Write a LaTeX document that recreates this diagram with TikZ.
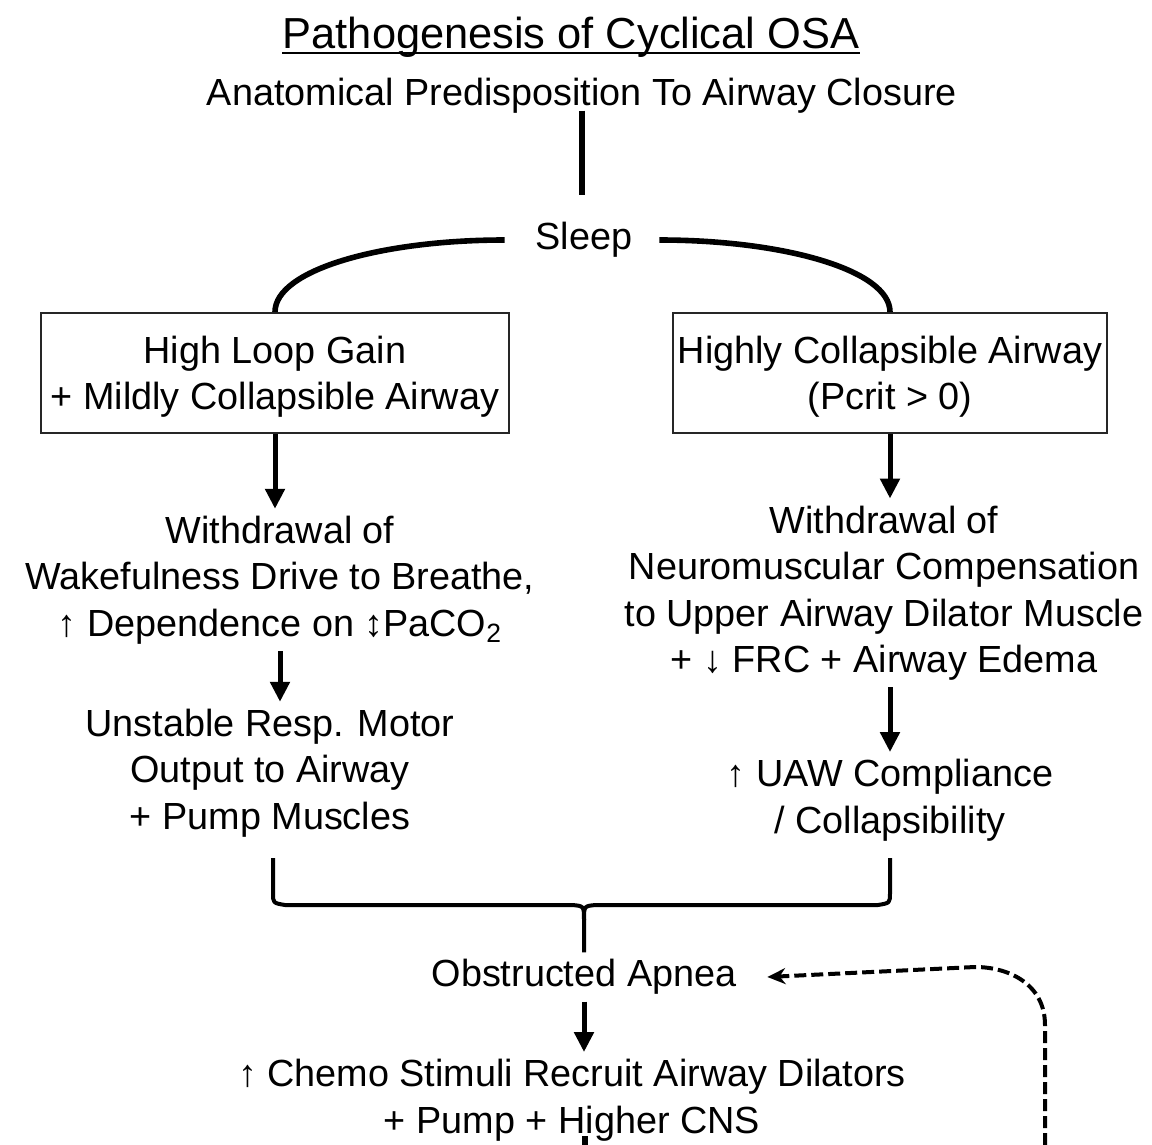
\documentclass[tikz,border=0pt]{standalone}
\usepackage{fontspec}
\setmainfont{Liberation Sans}
\usetikzlibrary{arrows.meta}

\begin{document}
\begin{tikzpicture}[x=0.5pt, y=-0.5pt,
    every node/.style={font=\fontsize{18.9}{23.25}\selectfont, align=center},
    statebox/.style={draw=black!85, line width=1pt, minimum height=60pt, inner sep=0pt, text depth=0pt},
    link/.style={line width=2.8pt},
    bracepath/.style={line width=2pt, line join=round},
    arr/.style={line width=2.5pt, -{Triangle[length=10pt, width=9.5pt]}},
    feedback/.style={line width=2pt, dash pattern=on 6pt off 2.5pt, -{Stealth[length=9pt, width=8pt]}}]

    \useasboundingbox (0, 0) rectangle (1152, 1145);

    % Declare the nodes
    \node[inner sep=0pt] at (571, 37) (title) {\fontsize{21.7}{26}\selectfont Pathogenesis of Cyclical OSA};
    \node at (582, 96) (anat) {Anatomical Predisposition To Airway Closure};
    \node at (584, 240) (sleep) {Sleep};
    \node[statebox, minimum width=234pt] at (275, 373) (hl) {High Loop Gain\\+ Mildly Collapsible Airway};
    \node[statebox, minimum width=217pt] at (890, 373) (hc) {Highly Collapsible Airway\\(Pcrit > 0)};
    \node at (280, 580) (wl) {Withdrawal of\\Wakefulness Drive to Breathe,\\↑ Dependence on ↕PaCO\textsubscript{2}};
    \node at (270, 773) (ul) {Unstable Resp. Motor\\Output to Airway\\+ Pump Muscles};
    \node at (884, 593) (wr) {Withdrawal of\\Neuromuscular Compensation\\to Upper Airway Dilator Muscle\\+ ↓ FRC + Airway Edema};
    \node at (890, 800) (uaw) {↑ UAW Compliance\\/ Collapsibility};
    \node at (584, 977) (apnea) {Obstructed Apnea};
    \node at (572, 1100) (chemo) {↑ Chemo Stimuli Recruit Airway Dilators\\+ Pump + Higher CNS};

    % Declare the coordinates
    \coordinate (bracel) at (273, 858);
    \coordinate (bracer) at (890, 858);
    \coordinate (fbstart) at (1045, 1145);
    \coordinate (cutoff) at (585, 1145);

    % Underline the title
    \draw[line width=1pt] ([yshift=-2.5pt]title.base west) -- ([yshift=-2.5pt]title.base east);

    % Declare edges
    \draw[link, line width=3pt, shorten <=-5pt, shorten >=10pt] (anat.south) -- (anat.south |- sleep.north);
    \draw[link] ([xshift=-12pt]sleep.west) .. controls +(-124, 0) and +(0, -42) .. (hl.north);
    \draw[link] ([xshift=10pt]sleep.east) .. controls +(124, 0) and +(0, -42) .. (hc.north);
    \draw[arr] (hl.south) -- (hl.south |- wl.north);
    \draw[arr] (hc.south) -- (hc.south |- wr.north);
    \draw[arr] (wl.south) -- (wl.south |- ul.north);
    \draw[arr] (uaw.north |- wr.south) -- (uaw.north);
    \draw[arr] (apnea.south) -- (apnea.south |- chemo.north);

    % Declare the brace
    \draw[bracepath] (bracel) -- (273, 893) .. controls (273, 903) .. (285, 905) -- (572, 905) .. controls (584, 906) .. (584, 920) -- (apnea.north);
    \draw[bracepath] (bracer) -- (890, 893) .. controls (890, 903) .. (878, 905) -- (596, 905) .. controls (584, 906) .. (584, 920);

    % Declare feedback edges
    \draw[feedback] (fbstart) -- (1045, 1025) .. controls (1045, 985) and (1010, 967) .. (975, 967) -- ([xshift=12pt]apnea.east);
    \draw[link] (cutoff) -- ++(0, -9);

\end{tikzpicture}
\end{document}
